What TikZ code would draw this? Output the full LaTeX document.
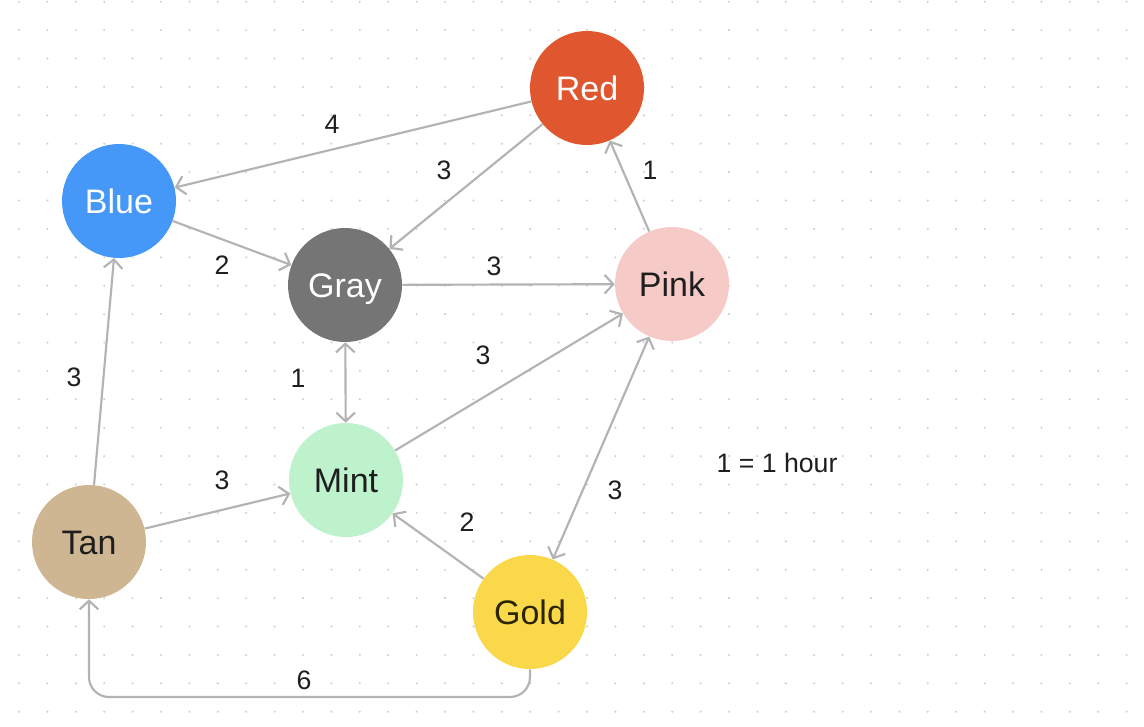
\documentclass[tikz,border=0pt]{standalone}
\usepackage{fontspec}
\setmainfont{Liberation Sans}
\usetikzlibrary{arrows.meta}
\definecolor{cRed}{HTML}{E0562F}
\definecolor{cBlue}{HTML}{4598F7}
\definecolor{cGray}{HTML}{757575}
\definecolor{cPink}{HTML}{F6CAC6}
\definecolor{cMint}{HTML}{BEF2CC}
\definecolor{cTan}{HTML}{CFB692}
\definecolor{cGold}{HTML}{F9D849}
\definecolor{cEdge}{HTML}{B3B3B3}
\definecolor{cDot}{HTML}{CFCFCF}
\definecolor{cText}{HTML}{1E1E1E}
\definecolor{cGoldText}{HTML}{2B2400}
\tikzset{
  vtx/.style={circle, minimum size=85.5pt, inner sep=0pt, text height=18.3pt, text depth=0pt, font=\fontsize{25.5}{30}\selectfont},
  lightv/.style={vtx, text=white},
  darkv/.style={vtx, text=cText},
  tip/.tip={Straight Barb[length=6.5pt,width=14pt,line width=1.6pt]},
  edge/.style={draw=cEdge, line width=1.6pt, -tip},
  bedge/.style={draw=cEdge, line width=1.6pt, tip-tip},
  wlabel/.style={text=cText, font=\fontsize{20}{24}\selectfont, inner sep=0pt}
}
\begin{document}
\begin{tikzpicture}[x=0.75pt,y=-0.75pt]
\useasboundingbox (0,0) rectangle (1144,726);
\fill[white] (0,0) rectangle (1144,726);
\foreach \i in {0,...,40}{
  \foreach \j in {0,...,25}{
    \fill[cDot] ({19+28.4*\i},{1.7+28.4*\j}) circle (0.85pt);
  }
}
% vertices
\node[lightv, fill=cRed]  (red)  at (587,88)  {Red};
\node[lightv, fill=cBlue] (blue) at (119,201) {Blue};
\node[lightv, fill=cGray] (gray) at (345,285) {Gray};
\node[darkv, fill=cPink]  (pink) at (672,284) {Pink};
\node[darkv, fill=cMint]  (mint) at (346,480) {Mint};
\node[darkv, fill=cTan]   (tan)  at (89,542)  {Tan};
\node[vtx, fill=cGold, text=cGoldText] (gold) at (530,612) {Gold};
% edges
\draw[edge] (red) -- (blue);
\draw[edge] (red) -- (gray);
\draw[edge] (blue) -- (gray);
\draw[edge] (gray) -- (pink);
\draw[edge] (pink) -- (red);
\draw[bedge] (gray) -- (mint);
\draw[edge] (mint) -- (pink);
\draw[edge] (tan) -- (blue);
\draw[edge] (tan) -- (mint);
\draw[edge] (gold) -- (mint);
\draw[bedge] (pink) -- (gold);
\coordinate (low) at (0,697);
\draw[edge, rounded corners=15pt] (gold.south) -- (gold.south |- low) -- (tan.south |- low) -- (tan.south);
% weights
\node[wlabel] (w1) at (332,124) {4};
\node[wlabel] (w2) at (444,170) {3};
\node[wlabel] (w3) at (650,170) {1};
\node[wlabel] (w4) at (222,265) {2};
\node[wlabel] (w5) at (494,266) {3};
\node[wlabel] (w6) at (483,355) {3};
\node[wlabel] (w7) at (298,378) {1};
\node[wlabel] (w8) at (74,377) {3};
\node[wlabel] (w9) at (222,480) {3};
\node[wlabel] (w10) at (467,522) {2};
\node[wlabel] (w11) at (615,490) {3};
\node[wlabel] (w12) at (304,680) {6};
\node[wlabel] (legend) at (777,463) {1 = 1 hour};
\end{tikzpicture}
\end{document}
